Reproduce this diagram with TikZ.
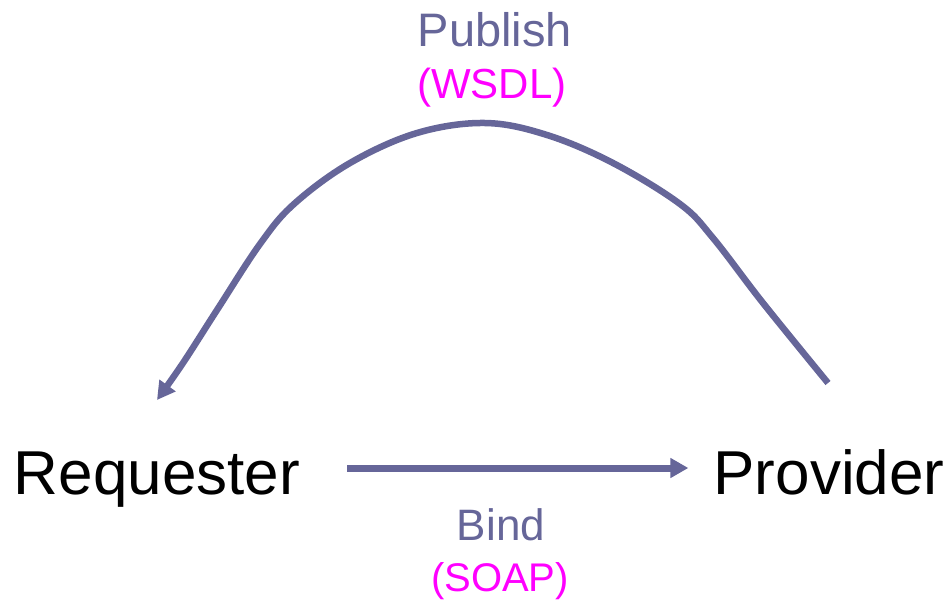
\documentclass[tikz,border=0pt]{standalone}
\usepackage{fontspec}
\setmainfont{Liberation Sans}
\usetikzlibrary{arrows.meta,calc}
\definecolor{flow}{HTML}{666699}
\definecolor{proto}{HTML}{FF00FF}
\newcommand\textsz[1]{\fontsize{#1}{#1}\selectfont}
\tikzset{
  party/.style={inner sep=0pt, anchor=base, font=\textsz{62}, text=black},
  action/.style={inner sep=0pt, anchor=base, font=\textsz{#1}, text=flow},
  protocol/.style={inner sep=0pt, anchor=base, font=\textsz{#1}, text=proto},
  link/.style={draw=flow, line width=#1, -{Triangle[length=18pt,width=19pt]}},
}
\begin{document}
\begin{tikzpicture}[x=1pt,y=-1pt]
  \useasboundingbox (0,0) rectangle (951,605);

  % the two parties
  \node[party] (req)  at (157,494) {Requester};
  \node[party] (prov) at (829,494) {Provider};

  % labels of the two interactions
  \node[action=47]   (pub)  at (495,46)  {Publish};
  \node[protocol=42] (wsdl) at (492,98)  {(WSDL)};
  \node[action=44]   (bind) at (501,540) {Bind};
  \node[protocol=40] (soap) at (500,591) {(SOAP)};

  % ends of the publish arc
  \coordinate (pubA) at (828,383);
  \coordinate (pubB) at (157,400);

  % publish: arc from the provider back over to the requester
  \draw[link=6.5pt] plot[smooth, tension=0.6] coordinates {
    (pubA) (763,303) (713,238) (680,204) (613,163) (547,135)
    (485,123) (417,133) (350,163) (294,204) (260,244) (217,310)
    (183,363) (pubB)};

  % bind: straight arrow from requester to provider
  \draw[link=7pt] ($(req.base east)+(47,-26)$) -- ($(prov.base west)+(-25,-26)$);
\end{tikzpicture}
\end{document}
